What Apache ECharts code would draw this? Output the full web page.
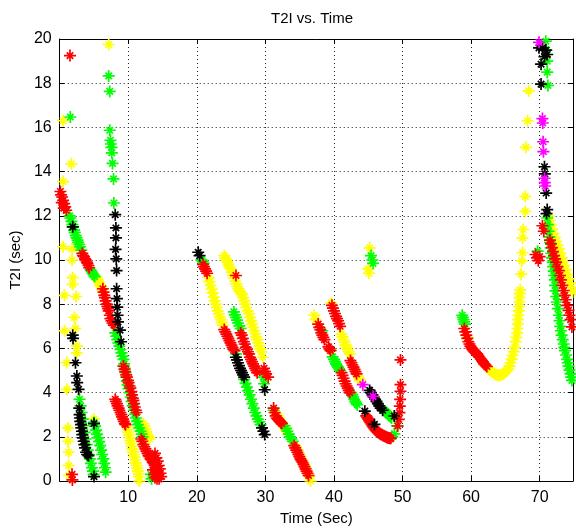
<!DOCTYPE html>
<html><head><meta charset="utf-8">
<script src="https://cdn.jsdelivr.net/npm/echarts@6/dist/echarts.min.js"></script>
<style>html,body{margin:0;padding:0;background:#fff}#c{width:576px;height:531px}</style>
</head><body><div id="c"></div>
<script>
const titleText = 'T2I vs. Time';
const xName = 'Time (Sec)';
const yName = 'T2I (sec)';

const redPts = [
[1.5,19.25],
[0.1,13.1],[0.2,12.95],[0.35,12.85],[0.5,12.7],[0.65,12.55],[0.8,12.4],[0.95,12.25],[0.3,12.6],[0.6,12.35],
[3.3,10.3],[3.4,10.2],[3.55,10.15],[3.7,10.05],[3.8,10.0],[3.95,9.9],[4.05,9.85],[4.2,9.75],[4.3,9.65],
[6.3,8.7],[6.4,8.55],[6.5,8.4],[6.6,8.3],[6.7,8.15],[6.85,8.0],[6.95,7.9],[7.05,7.8],[7.15,7.7],[7.3,7.5],[7.4,7.35],[7.55,7.25],[7.7,7.15],[7.9,7.05],
[9.3,5.2],[9.45,5.05],[9.55,4.95],[9.7,4.8],[9.8,4.7],[9.95,4.55],[10.05,4.45],[10.2,4.3],[10.3,4.2],[10.45,4.05],[10.55,3.9],[10.65,3.75],[10.75,3.65],[10.85,3.5],[10.95,3.35],[11.1,3.2],[11.2,3.1],
[11.9,1.9],[12.05,1.8],[12.2,1.65],[12.35,1.55],[12.5,1.45],[12.65,1.35],[12.8,1.25],[12.95,1.15],[13.1,1.1],[13.25,1.0],[13.4,0.95],[13.55,0.85],[13.7,0.8],[13.85,0.7],[14.0,0.6],[14.15,0.45],[14.3,0.35],[14.5,0.1],[13.9,1.25],[14.1,1.05],[14.3,0.9],[14.45,0.7],[14.6,0.55],[14.7,0.35],[14.8,0.2],[13.6,0.5],[13.75,0.3],[13.9,0.15],[14.2,0.1],
[8.1,3.7],[8.2,3.6],[8.35,3.5],[8.45,3.4],[8.6,3.3],[8.7,3.2],[8.85,3.1],[9.0,3.0],[9.1,2.9],[9.25,2.8],[9.35,2.7],[9.5,2.6],[9.6,2.55],
[1.8,0.3],[1.85,0.05],
[20.9,9.8],[21.05,9.7],[21.2,9.6],[21.35,9.5],[21.5,9.4],
[24.0,6.85],[24.15,6.75],[24.3,6.65],[24.45,6.55],[24.6,6.45],[24.75,6.35],[24.9,6.25],[25.05,6.15],[25.2,6.05],[25.35,5.95],[25.5,5.9],
[25.7,9.3],
[26.4,6.7],[26.55,6.6],[26.7,6.45],[26.85,6.3],[27.0,6.2],[27.15,6.05],[27.3,5.95],[27.45,5.85],[27.6,5.75],[27.75,5.6],[27.9,5.5],[28.05,5.4],[28.2,5.3],[28.35,5.2],[28.5,5.1],[28.65,5.0],[28.8,4.9],[29.8,5.1],[29.95,4.95],[30.1,4.85],[30.4,4.7],
[31.2,3.3],[31.35,3.1],[31.5,2.95],[31.65,2.85],[31.8,2.8],[31.95,2.75],[32.1,2.7],[32.25,2.65],[32.4,2.6],
[34.2,1.6],[34.35,1.5],[34.5,1.4],[34.65,1.3],[34.8,1.2],[34.95,1.1],[35.1,1.0],[35.25,0.92],[35.4,0.85],[35.55,0.75],[35.7,0.65],[35.85,0.55],[36.0,0.45],[36.15,0.35],[36.3,0.25],
[37.7,7.1],[37.85,6.95],[38.0,6.85],[38.15,6.7],[38.3,6.6],[38.45,6.5],[38.6,6.4],[39.2,6.07],[39.35,5.98],[39.5,5.9],
[41.1,4.9],[41.25,4.78],[41.4,4.65],[41.55,4.52],[41.7,4.4],[41.85,4.3],[42.0,4.2],[42.15,4.1],[42.3,4.0],
[44.7,2.95],[44.85,2.88],[45.0,2.8],[45.15,2.72],[45.3,2.65],[45.45,2.58],[45.6,2.5],[45.75,2.44],[45.9,2.38],[46.05,2.32],[46.2,2.27],[46.35,2.22],[46.5,2.18],[46.65,2.15],[46.8,2.12],[46.95,2.1],[47.1,2.07],[47.25,2.05],[47.4,2.02],[47.55,2.0],[47.7,1.98],[47.85,1.96],[48.0,1.95],[48.15,1.94],[48.3,1.93],
[39.7,7.95],[39.85,7.82],[40.0,7.7],[40.15,7.58],[40.3,7.45],[40.45,7.35],[40.6,7.25],[40.75,7.12],[40.9,7.0],
[42.4,5.45],[42.55,5.35],[42.7,5.25],[42.85,5.15],[43.0,5.05],[43.15,4.95],[43.3,4.85],
[49.7,5.48],[49.7,4.36],[49.7,4.06],[49.65,3.69],[49.6,3.39],[49.55,3.09],[49.45,2.79],[49.3,2.49],
[59.0,6.9],[59.15,6.75],[59.3,6.6],[59.45,6.45],[59.6,6.3],[59.75,6.2],[59.9,6.1],[60.05,6.02],[60.2,5.95],[60.35,5.9],[60.5,5.85],[60.7,5.8],[60.9,5.75],[61.05,5.68],[61.2,5.6],[61.4,5.52],[61.6,5.45],[61.75,5.38],[61.9,5.3],[62.1,5.24],[62.3,5.18],
[69.4,10.25],[69.6,10.1],[69.8,9.97],[70.0,10.15],
[70.4,11.55],[70.6,11.3],
[71.5,10.9],[71.65,10.73],[71.8,10.56],[71.95,10.38],[72.1,10.2],[72.25,10.05],[72.4,9.9],[72.6,9.7],[72.8,9.52],[72.95,9.3],[73.1,9.1],[73.3,8.85],[73.5,8.62],[73.65,8.4],[73.8,8.2],[74.0,7.95],[74.2,7.72],[74.35,7.5],[74.5,7.3],[74.7,6.97]
];

const yellowPts = [
[0.5,16.3],[1.7,14.35],[0.5,13.55],[7.15,19.75],
[0.5,10.6],[1.8,10.5],[1.8,10.0],[1.9,9.2],[1.9,8.9],[0.7,8.4],[2.4,8.35],[2.15,7.4],[0.7,6.8],[2.3,6.9],[2.5,6.1],[2.5,5.8],[1.0,5.35],[1.05,4.15],
[1.2,2.4],[1.2,1.8],[1.3,1.3],[1.3,0.7],[1.35,0.25],
[5.0,2.8],
[5.4,9.2],[5.55,9.1],[5.7,9.0],[5.85,8.9],[6.0,8.8],[6.2,8.65],
[12.2,2.6],[12.35,2.48],[12.5,2.35],[12.65,2.22],[12.8,2.1],[12.95,2.0],[13.1,1.9],
[9.8,2.45],[9.9,2.32],[10.0,2.2],[10.1,2.08],[10.2,1.95],[10.3,1.82],[10.4,1.7],[10.5,1.58],[10.6,1.45],[10.7,1.32],[10.8,1.2],[10.9,1.08],[11.0,0.95],[11.1,0.82],[11.2,0.7],[11.3,0.58],[11.4,0.45],[11.5,0.32],[11.55,0.2],[11.6,0.0],
[21.7,9.2],[21.85,9.02],[22.0,8.85],[22.15,8.68],[22.3,8.5],[22.45,8.32],[22.6,8.15],[22.75,8.0],[22.9,7.85],[23.05,7.7],[23.2,7.55],[23.35,7.42],[23.5,7.3],[23.65,7.18],[23.8,7.05],
[24.0,10.2],[24.15,10.1],[24.3,10.0],[24.45,9.9],[24.6,9.8],[24.75,9.7],[24.9,9.6],[25.1,9.45],[25.3,9.3],[25.45,9.18],[25.6,9.05],[25.75,8.92],[25.9,8.8],[26.05,8.7],[26.2,8.6],[26.4,8.52],[26.6,8.45],[26.75,8.3],[26.9,8.15],[27.05,8.0],[27.2,7.85],[27.4,7.7],[27.6,7.57],[27.75,7.4],[27.9,7.25],[28.05,7.1],[28.2,6.95],[28.35,6.8],[28.5,6.67],[28.65,6.52],[28.8,6.4],[28.95,6.25],[29.1,6.1],[29.25,5.98],[29.4,5.85],[29.6,5.6],
[31.6,3.05],[31.8,2.95],[32.0,2.85],[32.25,2.7],[32.5,2.55],[32.75,2.42],[33.0,2.3],[34.5,1.55],[34.7,1.4],[34.9,1.25],[35.1,1.1],[35.3,0.95],[35.5,0.82],[35.7,0.7],[35.9,0.58],[36.1,0.45],[36.25,0.32],[36.4,0.2],[36.6,0.0],
[37.1,7.5],[37.3,7.3],[39.5,5.95],
[39.6,8.05],[41.1,6.65],[41.25,6.52],[41.4,6.4],[41.55,6.28],[41.7,6.15],[41.85,6.05],[42.0,5.95],[42.15,5.85],[42.3,5.75],[43.5,4.75],[43.65,4.65],[43.8,4.55],
[45.2,10.55],[45.0,9.6],[45.1,9.4],
[59.5,6.5],
[62.6,5.05],[62.8,5.0],[63.0,4.95],[63.2,4.9],[63.4,4.85],[63.6,4.82],[63.8,4.8],[64.0,4.78],[64.2,4.79],[64.4,4.8],[64.6,4.83],[64.8,4.87],[65.0,4.92],[65.2,4.98],[65.4,5.08],[65.6,5.2],[65.75,5.35],[65.9,5.5],[66.05,5.68],[66.2,5.85],[66.35,6.05],[66.5,6.3],[66.6,6.5],[66.7,6.7],[66.75,6.9],[66.8,7.1],[66.85,7.3],[66.9,7.5],[66.95,7.7],[67.0,7.9],[67.05,8.1],[67.05,8.3],[67.1,8.48],[67.15,8.65],[67.3,9.36],[67.4,9.96],[67.5,10.34],[67.5,11.0],[67.6,11.38],[67.9,12.2],[67.9,12.88],[68.0,15.1],[68.25,16.3],[68.4,17.65],
[71.3,12.0],[71.45,11.8],[71.6,11.6],[71.8,11.4],[72.0,11.2],[72.2,11.02],[72.4,10.85],[72.6,10.68],[72.8,10.5],[73.0,10.3],[73.2,10.1],[73.4,9.92],[73.6,9.75],[73.8,9.55],[74.0,9.35],[74.2,9.15],[74.4,8.95],[74.6,8.75],[74.8,8.55]
];

const greenPts = [
[7.15,18.33],[7.3,17.63],[1.55,16.47],[7.3,15.87],[7.4,15.42],[7.45,15.25],[7.55,15.1],[7.6,14.85],[7.7,14.37],[7.85,13.67],[7.9,12.58],
[1.45,12.0],[1.55,11.9],[1.7,11.75],[1.85,11.6],[1.95,11.5],[2.1,11.35],[2.2,11.25],[2.35,11.1],[2.45,11.0],[2.6,10.9],[2.7,10.8],[2.85,10.7],[2.95,10.6],[3.15,10.45],
[4.5,9.55],[4.65,9.48],[4.8,9.4],[4.95,9.32],[5.1,9.25],
[8.1,6.7],[8.25,6.55],[8.4,6.4],[8.55,6.25],[8.7,6.1],[8.85,5.95],[9.0,5.8],[9.15,5.65],[9.3,5.5],[9.4,5.3],[9.5,5.1],[9.6,4.9],[9.7,4.7],[9.8,4.52],[9.9,4.35],[10.05,4.18],[10.2,4.0],[10.35,3.8],[10.5,3.6],[10.65,3.4],[10.8,3.2],[10.95,3.02],[11.1,2.85],[11.25,2.7],[11.4,2.55],[11.6,2.4],[11.8,2.25],[11.95,2.12],[12.1,2.0],
[13.3,0.3],[13.4,0.1],
[2.9,3.7],[3.05,3.4],[3.2,3.1],[3.35,2.8],[3.5,2.5],[3.65,2.2],[3.8,1.9],[3.95,1.65],[4.1,1.4],[4.25,1.2],[4.4,1.0],[4.55,0.8],[4.7,0.6],[4.85,0.45],[4.95,0.3],
[5.0,2.65],[5.15,2.48],[5.3,2.3],[5.45,2.12],[5.6,1.95],[5.75,1.78],[5.9,1.6],[6.05,1.4],[6.2,1.2],[6.35,1.0],[6.5,0.8],[6.6,0.6],[6.7,0.4],
[20.7,10.0],[20.85,9.92],[21.0,9.85],
[25.7,5.75],
[26.9,4.6],[27.1,4.42],[27.3,4.25],[27.5,4.08],[27.7,3.9],[27.9,3.7],[28.1,3.5],[28.3,3.3],[28.5,3.1],[28.7,2.95],[28.9,2.8],[29.1,2.68],[29.3,2.55],
[25.4,7.65],[25.55,7.52],[25.7,7.4],[25.85,7.28],[26.0,7.15],[26.2,7.02],[26.4,6.9],
[29.7,4.7],[29.8,4.4],
[31.2,3.2],
[32.8,2.5],[33.0,2.38],[33.2,2.25],[33.4,2.12],[33.6,2.0],[33.8,1.9],[34.0,1.8],
[45.4,10.2],[45.6,10.0],[45.7,9.85],
[38.3,6.8],
[39.8,5.62],[40.0,5.5],[40.15,5.4],[40.3,5.3],[40.45,5.22],[40.6,5.15],[40.75,5.08],[40.9,5.0],
[42.5,4.0],[42.65,3.9],[42.8,3.8],[42.95,3.7],[43.1,3.6],[43.25,3.52],[43.4,3.45],
[48.5,2.0],[48.8,2.13],[49.2,2.5],
[47.5,3.15],[47.65,3.1],[47.8,3.05],[47.95,3.0],[48.1,2.95],[48.25,2.9],[48.4,2.85],
[58.7,7.5],[58.8,7.4],[58.9,7.3],[59.0,7.2],[59.1,7.1],
[69.7,10.4],
[70.9,19.9],[71.0,19.5],[71.1,19.0],[71.1,18.5],[71.2,17.9],
[71.1,11.9],[71.2,11.6],[71.3,11.3],[71.4,11.05],[71.5,10.8],[71.6,10.55],[71.7,10.3],[71.8,10.1],[71.9,9.9],[71.95,9.7],[72.05,9.5],[72.1,9.3],[72.2,9.1],[72.25,8.85],[72.3,8.6],[72.4,8.35],[72.5,8.1],[72.65,7.8],[72.8,7.5],[72.9,7.25],[73.0,7.0],[73.1,6.8],[73.2,6.6],[73.35,6.4],[73.5,6.2],[73.6,6.05],[73.7,5.9],[73.85,5.7],[74.0,5.5],[74.1,5.35],[74.2,5.2],[74.35,5.02],[74.5,4.85],[74.6,4.7],[74.7,4.55]
];

const blackPts = [
[8.1,12.05],[8.2,11.45],[8.2,11.0],[8.15,10.48],[8.25,10.05],[8.3,9.52],[8.3,8.7],[8.35,8.25],[8.4,7.87],[8.45,7.5],[8.5,7.2],[8.8,6.83],[8.95,6.3],
[1.9,11.5],
[1.9,6.6],[1.95,6.45],[2.3,5.35],[2.5,4.75],[2.55,4.45],[2.75,4.15],[2.85,3.3],[2.9,3.0],[2.95,2.85],[3.0,2.7],[3.1,2.55],[3.15,2.4],[3.25,2.25],[3.3,2.1],[3.4,1.95],[3.5,1.8],[3.6,1.65],[3.7,1.5],[3.85,1.3],[4.0,1.2],[4.2,1.15],
[5.0,2.6],[5.0,0.2],
[20.2,10.35],[20.4,10.2],
[25.7,5.6],[25.85,5.48],[26.0,5.35],[26.15,5.22],[26.3,5.1],[26.45,5.0],[26.6,4.9],[26.75,4.8],[26.9,4.7],
[29.5,2.4],[29.7,2.25],[29.9,2.1],
[29.9,4.13],
[44.5,3.16],[45.9,2.56],
[45.2,4.1],[45.4,4.0],[45.6,3.9],[45.8,3.8],[46.0,3.7],[46.2,3.6],[46.4,3.5],[46.6,3.4],[46.8,3.3],[47.1,3.2],
[48.8,2.94],
[69.9,19.6],[70.4,19.6],[70.9,19.5],[71.1,19.3],[70.7,19.2],[70.2,18.86],[70.2,17.96],[70.7,14.22],[70.75,13.9],[70.95,13.03],[71.1,12.28],[71.0,12.1]
];

const magentaPts = [
[69.9,19.85],[70.4,16.4],[70.45,16.2],[70.5,15.35],[70.55,14.9],[70.7,13.7],[70.75,13.5],[70.8,13.35],[44.2,4.36],[45.7,3.83]
];

function asteriskPath() {
  const w = 7, parts = [];
  const arms = [[0,50],[90,50],[45,38],[135,38]];
  for (const [deg, L] of arms) {
    const a = deg * Math.PI / 180;
    const dx = Math.sin(a), dy = -Math.cos(a), nx = Math.cos(a), ny = Math.sin(a);
    const c = 50;
    const pts = [[c+L*dx+w*nx, c+L*dy+w*ny],[c+L*dx-w*nx, c+L*dy-w*ny],[c-L*dx-w*nx, c-L*dy-w*ny],[c-L*dx+w*nx, c-L*dy+w*ny]];
    parts.push('M' + pts.map(p => p[0].toFixed(2) + ' ' + p[1].toFixed(2)).join(' L') + ' Z');
  }
  return 'path://' + parts.join(' ');
}
const STAR = asteriskPath();
const FONT = '"Liberation Sans", Arial, Helvetica, sans-serif';

function mk(name, data, color) {
  return { name, type: 'scatter', data, symbol: STAR, symbolSize: 12,
    itemStyle: { color, opacity: 1 }, emphasis: { disabled: true }, animation: false };
}

const chart = echarts.init(document.getElementById('c'), null, { renderer: 'canvas' });
const gridLine = { show: true, lineStyle: { color: '#222', width: 1, type: [1, 3] } };
const baseX = {
  type: 'value', min: 0, max: 74.86, interval: 10,
  axisLine: { show: true, onZero: false, lineStyle: { color: '#000' } },
  axisTick: { show: true, inside: true, length: 5, lineStyle: { color: '#000' } },
  splitLine: { show: false }
};
const baseY = {
  type: 'value', min: 0, max: 20, interval: 2,
  axisLine: { show: true, onZero: false, lineStyle: { color: '#000' } },
  axisTick: { show: true, inside: true, length: 5, lineStyle: { color: '#000' } },
  splitLine: { show: false }
};
chart.setOption({
  backgroundColor: '#fff',
  animation: false,
  grid: { left: 50, right: 2, top: 39, bottom: 46, show: false },
  graphic: [{ type: 'text', x: 312, y: 19, style: { text: titleText, align: 'center', verticalAlign: 'middle', font: '15px ' + FONT, fill: '#000' } }],
  xAxis: [
    Object.assign({}, baseX, {
      position: 'bottom',
      splitLine: gridLine,
      name: xName, nameLocation: 'middle', nameGap: 30,
      nameTextStyle: { fontSize: 15, fontFamily: FONT, color: '#000' },
      axisLabel: { margin: 9, fontSize: 16, fontFamily: FONT, color: '#000',
        formatter: v => (v > 0 && Math.abs(v % 10) < 1e-6) ? String(v) : '' }
    }),
    Object.assign({}, baseX, { position: 'top', axisLabel: { show: false } })
  ],
  yAxis: [
    Object.assign({}, baseY, {
      position: 'left',
      splitLine: gridLine,
      name: yName, nameLocation: 'middle', nameGap: 31, nameRotate: 90,
      nameTextStyle: { fontSize: 15, fontFamily: FONT, color: '#000' },
      axisLabel: { margin: 8, fontSize: 16, fontFamily: FONT, color: '#000' }
    }),
    Object.assign({}, baseY, { position: 'right', axisLabel: { show: false } })
  ],
  series: [
    mk('yellow', yellowPts, '#ffff00'),
    mk('green', greenPts, '#00ff00'),
    mk('red', redPts, '#ff0000'),
    mk('black', blackPts, '#000000'),
    mk('magenta', magentaPts, '#ff00ff')
  ]
});
</script>
</body></html>
